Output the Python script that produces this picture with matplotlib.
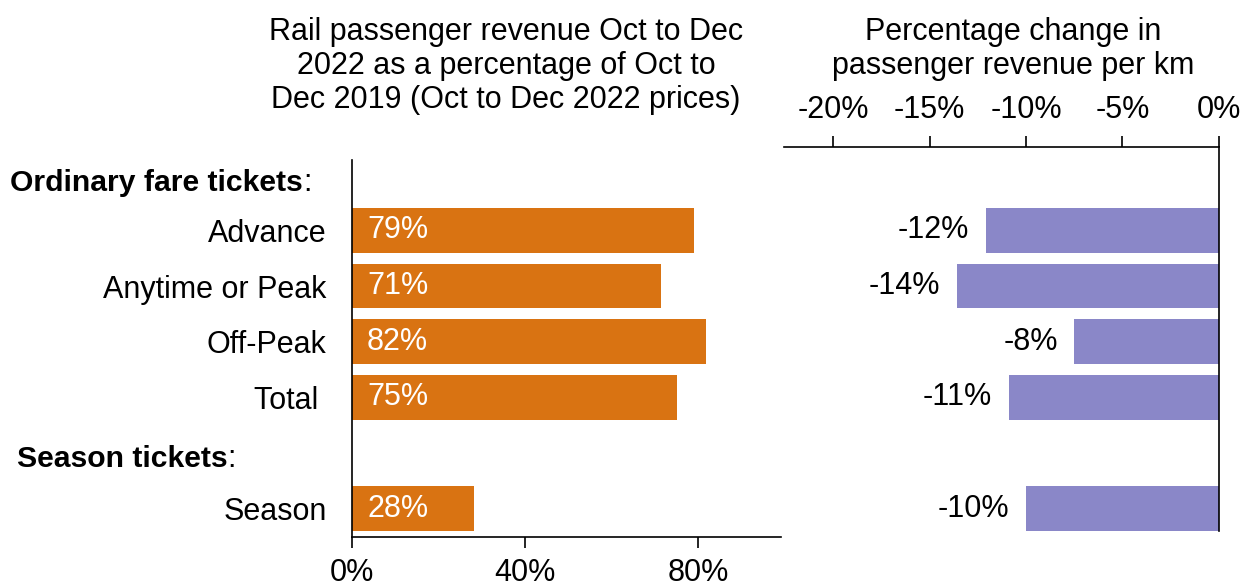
import matplotlib.pyplot as plt
from matplotlib.transforms import blended_transform_factory

plt.rcParams['font.family'] = ['Liberation Sans', 'DejaVu Sans']

# Data
categories = ["Advance", "Anytime or Peak", "Off-Peak", "Total ", "Season"]
rows = [1, 2, 3, 4, 6]
revenue_pct = [79.0, 71.4, 81.7, 75.1, 28.3]
revenue_labels = ["79%", "71%", "82%", "75%", "28%"]
change_pct = [-12.1, -13.6, -7.5, -10.9, -10.0]
change_labels = ["-12%", "-14%", "-8%", "-11%", "-10%"]
group_headers = [("Ordinary fare tickets", 0.14), ("Season tickets", 5.11)]

orange = "#D97312"
purple = "#8A87C8"
fs = 22

fig = plt.figure(figsize=(12.42, 5.84), dpi=100)
W, H = 1242, 584
bottom = 1 - 537 / H
height = (537 - 147) / H
ylim = (6.51, -0.50)

# Left panel
ax1 = fig.add_axes([351.5 / W, bottom, (780.7 - 351.5) / W, height])
ax1.barh(rows, revenue_pct, height=0.8, color=orange)
ax1.set_xlim(0, 99)
ax1.set_ylim(*ylim)
for r, v, lab in zip(rows, revenue_pct, revenue_labels):
    ax1.text(3.6, r, lab, color="white", fontsize=fs, va="center", ha="left")
ax1.spines[["top", "right"]].set_visible(False)
ax1.spines["left"].set_bounds(-0.27, 6.51)
ax1.set_xticks([0, 40, 80])
ax1.set_xticklabels(["0%", "40%", "80%"], fontsize=fs)
ax1.tick_params(axis="x", length=8, width=1.2, pad=7)
ax1.set_yticks(rows)
ax1.set_yticklabels(categories, fontsize=fs)
ax1.tick_params(axis="y", length=0, pad=18)
for s in ["left", "bottom"]:
    ax1.spines[s].set_linewidth(1.2)

# group headers
tr = blended_transform_factory(fig.transFigure, ax1.transData)
for (name, y), x in zip(group_headers, [10 / W, 17 / W]):
    t = ax1.text(x, y, name, transform=tr, fontsize=fs - 0.3, fontweight="bold", va="center", ha="left")
    ax1.annotate(":", xy=(1, 0.5), xycoords=t, fontsize=fs, va="center", ha="left")

# Right panel
ax2 = fig.add_axes([784 / W, bottom, (1218.7 - 784) / W, height])
ax2.barh(rows, change_pct, height=0.8, color=purple)
ax2.set_xlim(-22.56, 0)
ax2.set_ylim(*ylim)
for r, v, lab in zip(rows, change_pct, change_labels):
    ax2.text(v - 0.85, r, lab, color="black", fontsize=fs, va="center", ha="right")
ax2.spines[["left", "bottom"]].set_visible(False)
ax2.spines["right"].set_bounds(-0.5, 6.4)
for s in ["top", "right"]:
    ax2.spines[s].set_linewidth(1.2)
ax2.xaxis.tick_top()
ax2.set_xticks([-20, -15, -10, -5, 0])
ax2.set_xticklabels(["-20%", "-15%", "-10%", "-5%", "0%"], fontsize=fs)
ax2.tick_params(axis="x", length=8, width=1.2, pad=8)
ax2.set_yticks([])

# Titles
left_title = ["Rail passenger revenue Oct to Dec",
              "2022 as a percentage of Oct to",
              "Dec 2019 (Oct to Dec 2022 prices)"]
right_title = ["Percentage change in", "passenger revenue per km"]
for i, line in enumerate(left_title):
    fig.text(506 / W, 1 - (32 + 34 * i) / H, line, fontsize=fs, ha="center", va="center")
for i, line in enumerate(right_title):
    fig.text(1013 / W, 1 - (32 + 34 * i) / H, line, fontsize=fs, ha="center", va="center")

fig.savefig("out.png", dpi=100)
